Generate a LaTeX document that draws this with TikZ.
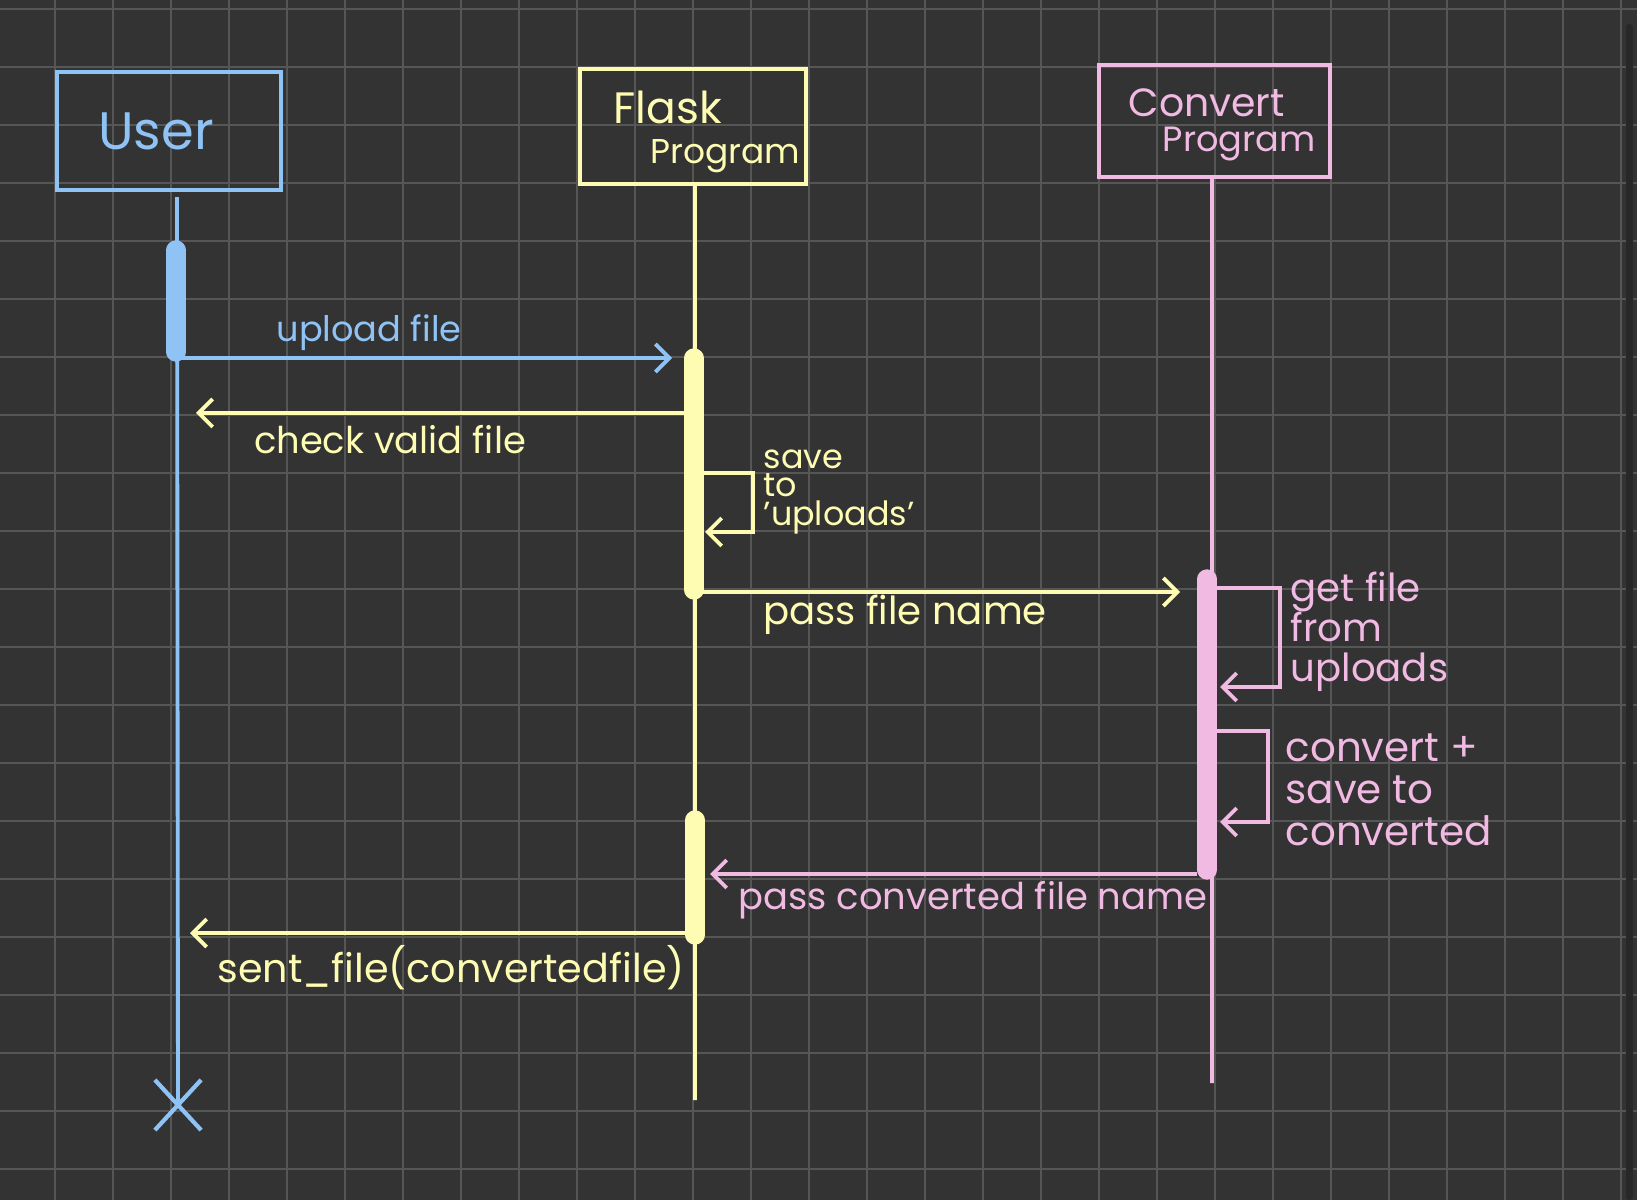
\documentclass[tikz,border=0pt]{standalone}
\usepackage{fontspec}
\setmainfont{Poppins}
\usetikzlibrary{arrows.meta,positioning,shapes.misc}

\definecolor{bgdark}{RGB}{51,51,51}
\definecolor{gridgray}{RGB}{86,86,86}
\definecolor{barshade}{RGB}{40,40,40}
\definecolor{userblue}{RGB}{143,195,245}
\definecolor{flaskyellow}{RGB}{253,252,178}
\definecolor{convpink}{RGB}{240,186,226}

\tikzset{
  actor/.style={draw=#1, line width=1.2pt, inner sep=0pt},
  lifeline/.style={draw=#1, line width=1.1pt},
  activation/.style={draw=#1, line width=5.5pt, line cap=round},
  msg/.style={draw=#1, line width=1.1pt, -{Straight Barb[length=1.4mm,width=2.8mm]}},
  hand/.style={text=#1, inner sep=0pt, font=\fontsize{10.5}{12}\selectfont},
}

\begin{document}
\begin{tikzpicture}
  [x=0.1mm, y=-0.1mm]
  \useasboundingbox (0,0) rectangle (1637,1200);
  \fill[bgdark] (0,0) rectangle (1637,1200);

  \foreach \x in {55,113,...,1621}
    \draw[gridgray, line width=0.2mm] (\x,0) -- (\x,1200);
  \foreach \y in {9,67,...,1169}
    \draw[gridgray, line width=0.2mm] (0,\y) -- (1637,\y);
  \fill[barshade, rounded corners=0.3mm] (1626,24) rectangle (1633,1200);

  % actors
  \node[actor=userblue, minimum width=22.4mm, minimum height=11.8mm] (user) at (169,131) {};
  \node[actor=flaskyellow, minimum width=22.6mm, minimum height=11.5mm] (flask) at (693,126.5) {};
  \node[actor=convpink, minimum width=23.1mm, minimum height=11.2mm] (convert) at (1214.5,121) {};

  \node[hand=userblue, font=\fontsize{15}{18}\selectfont] (userName) at (156,131) {User};
  \node[hand=flaskyellow, font=\fontsize{9.8}{11.4}\selectfont, align=left, anchor=west] (flaskName) at (613,132)
    {{\fontsize{12.5}{11.4}\selectfont Flask}\\\hspace*{3.7mm}Program};
  \node[hand=convpink, font=\fontsize{10}{10}\selectfont, align=left, anchor=west] (convName) at (1128,125)
    {{\fontsize{11.2}{10}\selectfont Convert}\\\hspace*{3.4mm}Program};

  % lifelines
  \node[cross out, draw=userblue, line width=1.2pt, minimum width=4.2mm, minimum height=4.6mm, inner sep=0pt] (userEnd) at (178,1105) {};
  \coordinate (flaskEnd) at (695,1100);
  \coordinate (convEnd) at (1212,1083);
  \draw[lifeline=userblue] ([xshift=0.8mm,yshift=-0.5mm]user.south) -- (userEnd.center);
  \draw[lifeline=flaskyellow] ([xshift=0.2mm]flask.south) -- (flaskEnd);
  \draw[lifeline=convpink] ([xshift=-0.25mm]convert.south) -- (convEnd);

  % activations
  \coordinate (uActA) at (176,250);  \coordinate (uActB) at (176,352);
  \coordinate (fActA) at (694,358);  \coordinate (fActB) at (694,590);
  \coordinate (fActC) at (695,820);  \coordinate (fActD) at (695,935);
  \coordinate (cActA) at (1207,579); \coordinate (cActB) at (1207,870);
  \draw[activation=userblue] (uActA) -- (uActB);
  \draw[activation=flaskyellow] (fActA) -- (fActB);
  \draw[activation=flaskyellow] (fActC) -- (fActD);
  \draw[activation=convpink] (cActA) -- (cActB);

  % messages
  \coordinate (upFrom) at (176,358);  \coordinate (upTo) at (672,358);
  \coordinate (chkFrom) at (686,413); \coordinate (chkTo) at (196,413);
  \coordinate (saveFrom) at (703,473); \coordinate (saveCorner) at (753,532); \coordinate (saveTo) at (705,532);
  \coordinate (passFrom) at (703,592); \coordinate (passTo) at (1180,592);
  \coordinate (getFrom) at (1217,588); \coordinate (getCorner) at (1280,687); \coordinate (getTo) at (1220,687);
  \coordinate (cnvFrom) at (1217,731); \coordinate (cnvCorner) at (1268,822); \coordinate (cnvTo) at (1220,822);
  \coordinate (backFrom) at (1197,874); \coordinate (backTo) at (710,874);
  \coordinate (sendFrom) at (685,933); \coordinate (sendTo) at (190,933);

  \draw[msg=userblue] (upFrom) -- (upTo);
  \draw[msg=flaskyellow] (chkFrom) -- (chkTo);
  \draw[msg=flaskyellow] (saveFrom) -| (saveCorner) -- (saveTo);
  \draw[msg=flaskyellow] (passFrom) -- (passTo);
  \draw[msg=convpink] (getFrom) -| (getCorner) -- (getTo);
  \draw[msg=convpink] (cnvFrom) -| (cnvCorner) -- (cnvTo);
  \draw[msg=convpink] (backFrom) -- (backTo);
  \draw[msg=flaskyellow] (sendFrom) -- (sendTo);

  \node[hand=userblue, font=\fontsize{10}{12}\selectfont] (upLbl) at (369,333) {upload file};
  \node[hand=flaskyellow] (chkLbl) at (390,440) {check valid file};
  \node[hand=flaskyellow, font=\fontsize{9.5}{8.2}\selectfont, align=left, anchor=west] (saveLbl) at (763,492) {save\\to\\'uploads'};
  \node[hand=flaskyellow, font=\fontsize{11}{12}\selectfont] (passLbl) at (905,615) {pass file name};
  \node[hand=convpink, font=\fontsize{11}{11.4}\selectfont, align=left, anchor=west] (getLbl) at (1290,632) {get file\\from\\uploads};
  \node[hand=convpink, font=\fontsize{11.5}{12}\selectfont, align=left, anchor=west] (cnvLbl) at (1285,790) {convert +\\save to\\converted};
  \node[hand=convpink] (backLbl) at (973,900) {pass converted file name};
  \node[hand=flaskyellow, font=\fontsize{11.3}{13}\selectfont] (sendLbl) at (451,968) {sent\_file(convertedfile)};

\end{tikzpicture}
\end{document}
